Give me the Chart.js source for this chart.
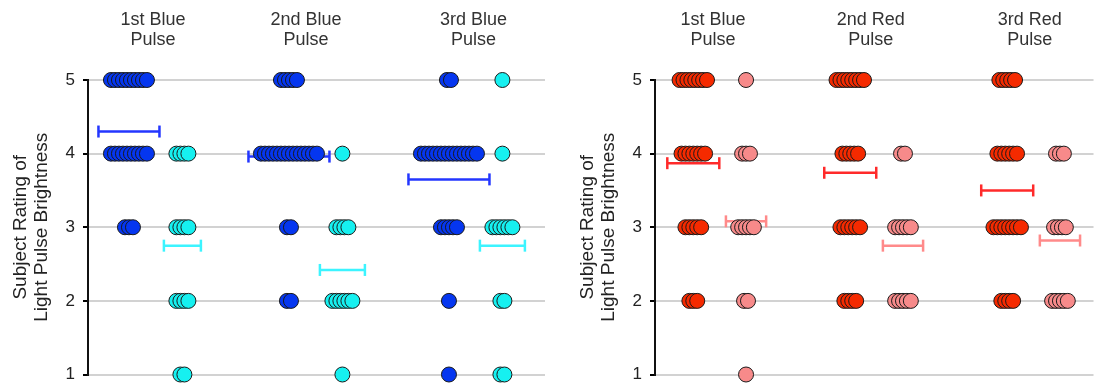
<!DOCTYPE html>
<html>
<head>
<meta charset="utf-8">
<script src="https://cdn.jsdelivr.net/npm/chart.js@4/dist/chart.umd.min.js"></script>
<style>
  html, body { margin: 0; padding: 0; background: #fff; overflow: hidden; }
  #wrap { position: relative; width: 1102px; height: 383px; }
  .panel { position: absolute; top: 0; height: 383px; }
  #left { left: 0; width: 567px; }
  #right { left: 567px; width: 535px; }
</style>
</head>
<body>
<div id="wrap">
  <div class="panel" id="left"><canvas id="blueChart" width="567" height="383"></canvas></div>
  <div class="panel" id="right"><canvas id="redChart" width="535" height="383"></canvas></div>
</div>
<script>
// rating levels, top to bottom; every count array below follows this order
const ratings = [5, 4, 3, 2, 1];

// blue panel
const blueHeaders = [['1st Blue', 'Pulse'], ['2nd Blue', 'Pulse'], ['3rd Blue', 'Pulse']];
const blueDarkCounts = [
  [10, 10, 3, 0, 0],
  [5, 15, 2, 2, 0],
  [2, 15, 5, 1, 1],
];
const blueLightCounts = [
  [0, 4, 4, 4, 2],
  [0, 1, 4, 6, 1],
  [1, 1, 6, 2, 2],
];
const blueDarkMeans = [4.3, 3.96, 3.65];
const blueLightMeans = [2.75, 2.42, 2.75];

// red panel
const redHeaders = [['1st Blue', 'Pulse'], ['2nd Red', 'Pulse'], ['3rd Red', 'Pulse']];
const redDarkCounts = [
  [8, 7, 5, 3, 0],
  [8, 5, 6, 4, 0],
  [5, 6, 8, 4, 0],
];
const redLightCounts = [
  [1, 3, 5, 2, 1],
  [0, 2, 5, 5, 0],
  [0, 3, 4, 5, 0],
];
const redDarkMeans = [3.87, 3.74, 3.5];
const redLightMeans = [3.08, 2.75, 2.82];

const FONT = 'Liberation Sans, Arial, sans-serif';
const PX = 160; // pixels per group on the x scale
const STEP = 4 / PX; // horizontal shift between overlapping dots

function dotPoints(counts, center) {
  const pts = [];
  counts.forEach((n, k) => {
    for (let i = 0; i < n; i++) {
      pts.push({ x: center + (i - (n - 1) / 2) * STEP, y: ratings[k] });
    }
  });
  return pts;
}

function meanLine(counts, center, mean, color) {
  const hw = ((Math.max(...counts) - 1) * 2 + 12.5) / PX;
  return {
    data: [{ x: center - hw, y: mean }, { x: center + hw, y: mean }],
    showLine: true,
    borderColor: color,
    borderWidth: 2.5,
    pointStyle: 'line',
    pointRotation: 90,
    pointRadius: 6,
    pointBorderColor: color,
    pointBorderWidth: 2.5,
    order: 1,
    clip: false,
  };
}

function dotSet(counts, center, fill) {
  return {
    data: dotPoints(counts, center),
    pointRadius: 7.5,
    pointBackgroundColor: fill,
    pointBorderColor: '#1a1a1a',
    pointBorderWidth: 1,
    order: 0,
    clip: false,
  };
}

function panel(id, cfg) {
  const datasets = [];
  for (let g = 0; g < 3; g++) {
    datasets.push(meanLine(cfg.dark[g], g + cfg.darkX, cfg.darkMeans[g], cfg.darkLine));
    datasets.push(meanLine(cfg.light[g], g + cfg.lightX, cfg.lightMeans[g], cfg.lightLine));
  }
  for (let g = 0; g < 3; g++) {
    datasets.push(dotSet(cfg.dark[g], g + cfg.darkX, cfg.darkFill));
    datasets.push(dotSet(cfg.light[g], g + cfg.lightX, cfg.lightFill));
  }

  const config = {
    type: 'scatter',
    data: { datasets },
    options: {
      responsive: false,
      animation: false,
      layout: { padding: { left: 0, right: cfg.padRight, top: 0, bottom: 8 } },
      plugins: {
        legend: { display: false },
        tooltip: { enabled: false },
      },
      scales: {
        x: { type: 'linear', display: false, min: 0, max: cfg.xMax },
        x2: {
          type: 'linear',
          position: 'top',
          min: 0,
          max: cfg.xMax,
          grid: { display: false, drawTicks: false },
          border: { display: false },
          afterBuildTicks: (s) => {
            s.ticks = cfg.headerX.map((v) => ({ value: v }));
          },
          afterFit: (s) => {
            s.height = 80;
            s.paddingLeft = 0;
            s.paddingRight = 0;
          },
          ticks: {
            autoSkip: false,
            maxRotation: 0,
            padding: 30,
            color: '#333',
            font: { family: FONT, size: 18, lineHeight: 1.1 },
            callback: (value, index) => cfg.headers[index],
          },
        },
        y: {
          min: 1,
          max: 5,
          afterFit: (s) => {
            s.width = 88;
            s.paddingTop = 0;
            s.paddingBottom = 0;
          },
          grid: { color: '#d2d2d2', lineWidth: 2, tickColor: '#000', tickLength: 5 },
          border: { display: true, color: '#111', width: 2 },
          ticks: {
            stepSize: 1,
            padding: 8,
            color: '#222',
            font: { family: FONT, size: 17 },
          },
          title: {
            display: true,
            text: ['Subject Rating of', 'Light Pulse Brightness'],
            color: '#222',
            font: { family: FONT, size: 19, lineHeight: 1.1 },
            padding: { top: 10, bottom: 0 },
          },
        },
      },
    },
  };
  return new Chart(document.getElementById(id).getContext('2d'), config);
}

panel('blueChart', {
  dark: blueDarkCounts,
  light: blueLightCounts,
  darkMeans: blueDarkMeans,
  lightMeans: blueLightMeans,
  headers: blueHeaders,
  headerX: [0.406, 1.362, 2.41],
  darkX: 0.256,
  lightX: 0.59,
  xMax: 457 / PX,
  padRight: 22,
  darkFill: '#0536f0',
  lightFill: '#16f0f0',
  darkLine: '#2336ff',
  lightLine: '#3cf4ff',
});

panel('redChart', {
  dark: redDarkCounts,
  light: redLightCounts,
  darkMeans: redDarkMeans,
  lightMeans: redLightMeans,
  headers: redHeaders,
  headerX: [0.369, 1.375, 2.388],
  darkX: 0.244,
  lightX: 0.58,
  xMax: 447 / PX,
  padRight: 0,
  darkFill: '#f52a00',
  lightFill: '#f78a8a',
  darkLine: '#ff2a2a',
  lightLine: '#ff8a8a',
});
</script>
</body>
</html>
